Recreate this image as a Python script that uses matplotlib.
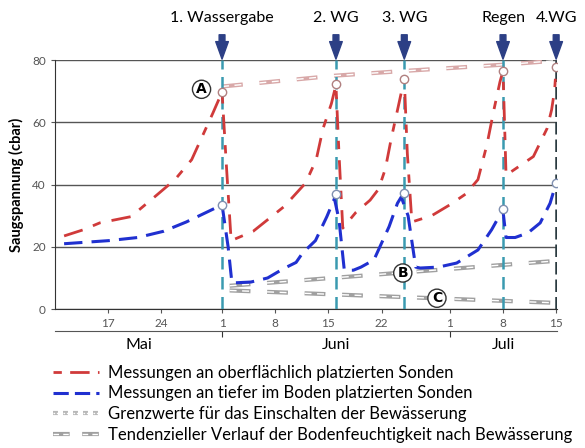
import matplotlib
matplotlib.use('Agg')
import matplotlib.pyplot as plt
from matplotlib.lines import Line2D

plt.rcParams['font.family'] = ['Lato', 'DejaVu Sans']

# days counted from 1 May (= day 0); 1 June = 31, 1 July = 61
red_x = [10.2, 12.75, 14.9, 19, 22, 24.8, 27, 29.8, 31,
         31.6, 32.2, 35.1, 39.2, 42, 43.4, 44.3, 45.4, 46,
         46.4, 46.9, 48.6, 50.5, 51.6, 52.5, 53.3, 54.2, 55,
         55.4, 56, 58.6, 61, 63.1, 64.7, 65.9, 66.8, 67.6, 68,
         68.2, 68.4, 69.6, 72, 73.8, 74.4, 74.8, 75]
red_y = [23.5, 25.5, 27.7, 29.7, 35.8, 41.6, 48, 63, 69.7,
         45, 22, 25, 33, 40.5, 48, 58, 66, 72,
         50, 26, 31, 35, 38.5, 45, 55, 65, 74,
         50, 28, 30, 33.5, 37, 41.6, 53, 64, 73, 76.5,
         60, 43, 45, 49, 58, 64, 70.5, 77.7]

blue_x = [10.2, 16.1, 19.9, 23.3, 26.3, 29.3, 31,
          31.8, 32.3, 34.8, 37, 39.1, 40.75, 41.6, 43.3, 44.8, 45.8,
          46.4, 47.1, 48.3, 49.3, 51, 53, 54.1, 54.6,
          55.5, 56.5, 57.1, 59.5, 61.9, 64.7, 66.5, 67.6, 68,
          68.4, 69.6, 71.3, 72.9, 74.2, 75]
blue_y = [21, 22, 23, 25, 28, 31.5, 33.5,
          20, 8.4, 8.7, 10, 13, 15, 18, 22, 29.7, 35.5,
          28.7, 12.5, 12.5, 13.5, 15.8, 26.5, 34, 36,
          30, 13.5, 13.2, 13.5, 14.8, 19, 25.5, 30.3, 31.5,
          23, 23, 24.5, 27.7, 34, 40.5]

events = [31, 46, 55, 68, 75]
event_labels = ['1. Wassergabe', '2. WG', '3. WG', 'Regen', '4.WG']
red_marks = [69.7, 72.3, 74, 76.5, 77.7]
blue_marks = [33.5, 37, 37.4, 32, 40.5]

upper_x = [31, 46, 55, 68, 75]
upper_y = [71.5, 75, 76.5, 78.5, 79.8]
trend_b_x = [32, 75]
trend_b_y = [7.5, 15.5]
trend_c_x = [32, 75]
trend_c_y = [6, 2]

point_names = ['A', 'B', 'C']
point_x = [28.3, 54.8, 59.3]
point_y = [70.6, 11.6, 3.5]

day_ticks = [16, 23, 31, 38, 45, 52, 61, 68, 75]
day_labels = ['17', '24', '1', '8', '15', '22', '1', '8', '15']
month_bounds = [31, 61]
month_centers = [20, 46, 68]
month_names = ['Mai', 'Juni', 'Juli']

red = '#d03a3a'
blue = '#2030d0'
teal = '#3a9ab0'
arrow_col = '#2c3f85'
pink = '#d8a8a8'
gray = '#a0a0a0'


def double_line(ax, x, y, color, dashes, lw_out=3.0, lw_in=1.0, z=2):
    ax.plot(x, y, color=color, lw=lw_out, dashes=dashes, zorder=z)
    ax.plot(x, y, color='white', lw=lw_in, dashes=dashes, zorder=z + 0.1)


fig = plt.figure(figsize=(5.85, 4.48), dpi=100)
ax = fig.add_axes([0.094, 0.310, 0.858, 0.556])

# trend / threshold lines
double_line(ax, upper_x, upper_y, pink, (5, 4))
double_line(ax, trend_b_x, trend_b_y, gray, (5, 4))
double_line(ax, trend_c_x, trend_c_y, gray, (5, 4))

# irrigation events
for d in events[:-1]:
    ax.plot([d, d], [0, 80], color=teal, lw=1.8, dashes=(5, 3), zorder=3)
ax.plot([events[-1]] * 2, [0, 80], color='#2a3a40', lw=1.8, dashes=(5, 2), zorder=3)

ax.plot(red_x, red_y, color=red, lw=2.0, dashes=(7, 4, 3, 4), zorder=4)
ax.plot(blue_x, blue_y, color=blue, lw=2.2, dashes=(6, 3), zorder=4)

ax.plot(events, red_marks, 'o', ms=6, mfc='white', mec='#b08080', mew=1, zorder=6)
ax.plot(events, blue_marks, 'o', ms=6, mfc='white', mec='#8090b0', mew=1, zorder=6)

for name, px, py in zip(point_names, point_x, point_y):
    ax.text(px, py, name, ha='center', va='center', fontsize=10, fontweight='bold',
            family='DejaVu Sans', zorder=7,
            bbox=dict(boxstyle='circle,pad=0.15', fc='white', ec='#333333', lw=1))

for d, lab in zip(events, event_labels):
    ax.annotate('', xy=(d, 79.4), xytext=(d, 89), annotation_clip=False,
                arrowprops=dict(arrowstyle='simple,head_width=0.65,head_length=0.9,tail_width=0.3',
                                mutation_scale=14, fc=arrow_col, ec=arrow_col), zorder=8)
    ax.text(d, 93.5, lab, ha='center', va='center', fontsize=11.5, clip_on=False)

ax.set_xlim(9, 75.1)
ax.set_ylim(0, 80)
ax.set_yticks([0, 20, 40, 60, 80])
ax.set_xticks(day_ticks)
ax.set_xticklabels(day_labels)
ax.tick_params(colors='#555555', labelsize=8.5, length=3)
ax.grid(axis='y', color='#555555', lw=1)
ax.set_axisbelow(True)
for s in ['top', 'right']:
    ax.spines[s].set_visible(False)
for s in ['left', 'bottom']:
    ax.spines[s].set_color('#333333')
ax.set_ylabel('Saugspannung (cbar)', fontsize=10.5, fontweight='bold', labelpad=6)

sec = ax.secondary_xaxis(-0.088)
sec.set_xticks(month_bounds)
sec.set_xticklabels(['', ''])
sec.set_xticks(month_centers, minor=True)
sec.set_xticklabels(month_names, minor=True)
sec.tick_params(which='major', length=4, color='#333333')
sec.tick_params(which='minor', length=0, labelsize=11.5, pad=5)
sec.spines['bottom'].set_color('#555555')

handles = [
    Line2D([], [], color=red, lw=2, dashes=(3, 3, 7, 3)),
    Line2D([], [], color=blue, lw=2.2, dashes=(5, 2)),
    (Line2D([], [], color='#b8b8b8', lw=3, dashes=(1.2, 1.2)),
     Line2D([], [], color='white', lw=1, dashes=(1.2, 1.2))),
    (Line2D([], [], color=gray, lw=3, dashes=(4, 3)),
     Line2D([], [], color='white', lw=1, dashes=(4, 3))),
]
labels = ['Messungen an oberflächlich platzierten Sonden',
          'Messungen an tiefer im Boden platzierten Sonden',
          'Grenzwerte für das Einschalten der Bewässerung',
          'Tendenzieller Verlauf der Bodenfeuchtigkeit nach Bewässerung']
fig.legend(handles, labels, loc='upper left', bbox_to_anchor=(0.09, 0.186),
           frameon=False, fontsize=12, handlelength=2.8, handletextpad=0.5,
           labelspacing=0.28, borderaxespad=0, borderpad=0)

fig.savefig('out.png', dpi=100)
